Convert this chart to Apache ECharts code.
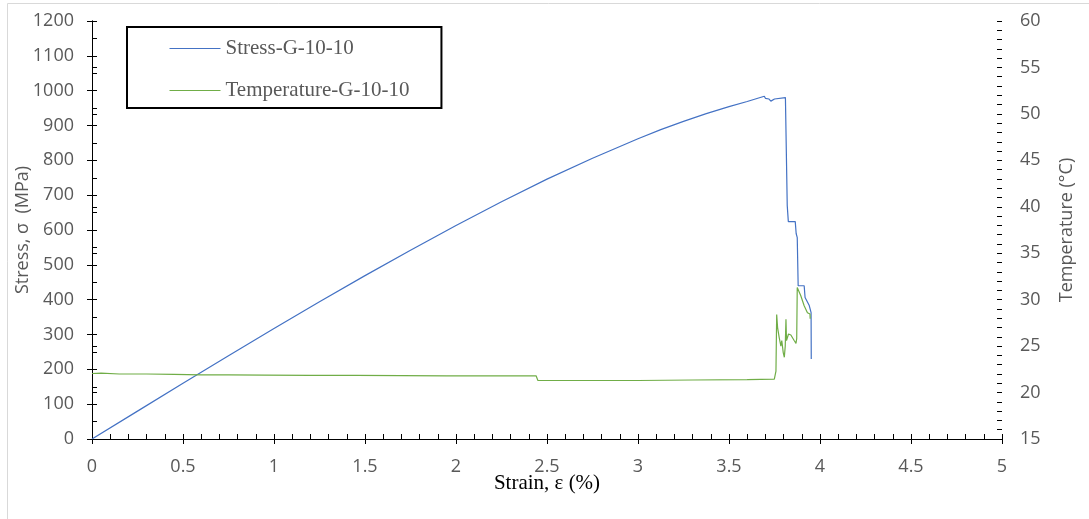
<!DOCTYPE html>
<html>
<head>
<meta charset="utf-8">
<script src="https://cdn.jsdelivr.net/npm/echarts@6/dist/echarts.min.js"></script>
<style>
  html, body { margin: 0; padding: 0; background: #fff; }
  #chart { width: 1089px; height: 519px; }
</style>
</head>
<body>
<div id="chart"></div>
<script>
// 应力曲线 (strain %, MPa)
var stressStrain = [0, 0.25, 0.5, 0.75, 1, 1.25, 1.5, 1.75, 2, 2.25, 2.5, 2.75, 3, 3.125, 3.25, 3.375, 3.5, 3.6, 3.694, 3.70, 3.72, 3.73, 3.75, 3.81, 3.818, 3.82, 3.826, 3.864, 3.869, 3.875, 3.88, 3.913, 3.918, 3.924, 3.941, 3.951, 3.952];
var stressVals   = [0, 80, 160, 239, 317, 394, 469, 542, 613, 681, 746, 806, 862, 888, 912, 934, 954, 969, 984, 978, 976, 970, 976, 980, 980, 670, 624, 624, 590, 578, 440, 440, 406, 406, 383, 363, 230];

// 温度曲线 (strain %, °C)
var tempStrain = [0, 0.05, 0.15, 0.3, 0.45, 0.6, 0.75, 0.95, 1.2, 1.45, 1.7, 1.95, 2.2, 2.44, 2.45, 2.7, 3.0, 3.3, 3.6, 3.749, 3.758, 3.762, 3.767, 3.776, 3.785, 3.79, 3.798, 3.804, 3.809, 3.813, 3.816, 3.827, 3.84, 3.858, 3.868, 3.872, 3.875, 3.880, 3.895, 3.913, 3.931, 3.945, 3.946];
var tempVals   = [22.05, 22.1, 22.0, 22.0, 21.95, 21.9, 21.9, 21.88, 21.85, 21.85, 21.82, 21.8, 21.8, 21.8, 21.3, 21.3, 21.3, 21.35, 21.4, 21.45, 22.3, 28.4, 27.0, 25.9, 25.0, 25.6, 24.3, 23.8, 25.0, 27.9, 25.6, 26.3, 26.2, 25.6, 25.3, 25.8, 31.3, 31.3, 30.4, 29.35, 28.6, 28.45, 27.95];

var seriesNames = ['Stress-G-10-10', 'Temperature-G-10-10'];

function zip(xs, ys) {
    var out = [];
    for (var i = 0; i < xs.length; i++) out.push([xs[i], ys[i]]);
    return out;
}

var chart = echarts.init(document.getElementById('chart'));

var labelFont = { color: '#595959', fontSize: 18, fontFamily: 'Open Sans' };
var black = { color: '#000', width: 1 };
var plain = function (v) { return String(v); };

var option = {
    animation: false,
    grid: { left: 92, right: 87, top: 21, bottom: 80, outerBoundsMode: 'none', containLabel: false },
    graphic: [{
        type: 'rect',
        shape: { x: 7.5, y: 3.5, width: 1200, height: 600 },
        style: { fill: 'none', stroke: '#d9d9d9', lineWidth: 1 },
        z: -1
    }],
    legend: {
        orient: 'vertical',
        left: 127, top: 27,
        padding: [11, 32, 7, 42],
        itemWidth: 51, itemHeight: 20, itemGap: 21,
        borderColor: '#000', borderWidth: 2,
        backgroundColor: '#fff',
        itemStyle: { opacity: 0 },
        lineStyle: { width: 1 },
        textStyle: { color: '#595959', fontSize: 21, fontFamily: 'Liberation Serif' },
        data: seriesNames
    },
    xAxis: [{
        type: 'value', min: 0, max: 5, interval: 0.5,
        name: 'Strain, ε (%)', nameLocation: 'middle', nameGap: 34, nameMoveOverlap: false,
        nameTextStyle: { color: '#000', fontSize: 21, fontFamily: 'Liberation Serif' },
        axisLine: { lineStyle: black },
        axisTick: { show: true, length: 5, lineStyle: black },
        axisLabel: Object.assign({ margin: 19, formatter: plain }, labelFont),
        splitLine: { show: false }
    }, {
        // 内侧刻度
        type: 'value', position: 'bottom', min: 0, max: 5, interval: 0.5,
        axisLine: { show: false },
        axisTick: { show: true, inside: true, length: 5, lineStyle: black },
        minorTick: { show: true, splitNumber: 5, length: 5, lineStyle: black },
        axisLabel: { show: false },
        splitLine: { show: false }
    }],
    yAxis: [{
        type: 'value', position: 'left', min: 0, max: 1200, interval: 100,
        name: 'Stress, σ  (MPa)', nameLocation: 'middle', nameGap: 60, nameRotate: 90, nameMoveOverlap: false,
        nameTextStyle: labelFont,
        axisLine: { show: true, lineStyle: black },
        axisTick: { show: true, length: 5, lineStyle: black },
        axisLabel: Object.assign({ margin: 18, formatter: plain }, labelFont),
        splitLine: { show: false }
    }, {
        type: 'value', position: 'right', min: 15, max: 60, interval: 5,
        name: 'Temperature (°C)', nameLocation: 'middle', nameGap: 56, nameRotate: 90, nameMoveOverlap: false,
        nameTextStyle: labelFont,
        axisLine: { show: true, lineStyle: black },
        axisTick: { show: true, length: 5, lineStyle: black },
        axisLabel: Object.assign({ margin: 18, formatter: plain }, labelFont),
        splitLine: { show: false }
    }, {
        type: 'value', position: 'left', min: 0, max: 1200, interval: 100,
        axisLine: { show: false },
        axisTick: { show: true, inside: true, length: 5, lineStyle: black },
        minorTick: { show: true, splitNumber: 2, length: 5, lineStyle: black },
        axisLabel: { show: false },
        splitLine: { show: false }
    }, {
        type: 'value', position: 'right', min: 15, max: 60, interval: 5,
        axisLine: { show: false },
        axisTick: { show: true, inside: true, length: 5, lineStyle: black },
        minorTick: { show: true, splitNumber: 5, length: 5, lineStyle: black },
        axisLabel: { show: false },
        splitLine: { show: false }
    }],
    series: [{
        name: seriesNames[0],
        type: 'line',
        yAxisIndex: 0,
        symbol: 'none',
        color: '#4472C4',
        lineStyle: { width: 1.2, color: '#4472C4' },
        data: zip(stressStrain, stressVals)
    }, {
        name: seriesNames[1],
        type: 'line',
        yAxisIndex: 1,
        symbol: 'none',
        color: '#70AD47',
        lineStyle: { width: 1.2, color: '#70AD47' },
        data: zip(tempStrain, tempVals)
    }]
};

chart.setOption(option);
</script>
</body>
</html>
